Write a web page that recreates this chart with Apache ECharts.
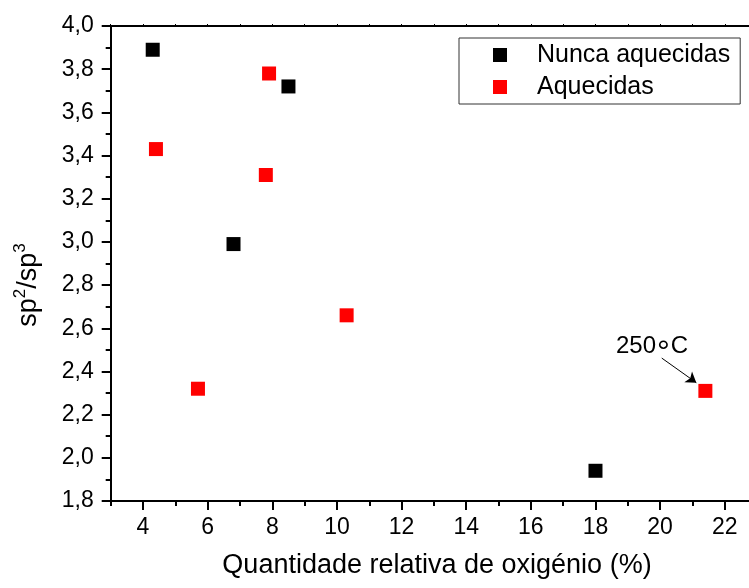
<!DOCTYPE html>
<html>
<head>
<meta charset="utf-8">
<script src="https://cdn.jsdelivr.net/npm/echarts@6/dist/echarts.min.js"></script>
<style>html,body{margin:0;padding:0;background:#fff;}#c{width:749px;height:588px;}</style>
</head>
<body>
<div id="c"></div>
<script>
var seriesNames = ['Nunca aquecidas', 'Aquecidas'];
var nuncaAquecidas = [[4.3, 3.89], [8.5, 3.72], [6.8, 2.99], [18.0, 1.94]];
var aquecidas = [[7.9, 3.78], [4.4, 3.43], [7.8, 3.31], [10.3, 2.66], [5.7, 2.32], [21.4, 2.31]];
var xTickLabels = [4, 6, 8, 10, 12, 14, 16, 18, 20, 22];
var xMinorTicks = [3, 5, 7, 9, 11, 13, 15, 17, 19, 21];
var yTickLabels = ['1,8','2,0','2,2','2,4','2,6','2,8','3,0','3,2','3,4','3,6','3,8','4,0'];
var yMinorTicks = [1.9, 2.1, 2.3, 2.5, 2.7, 2.9, 3.1, 3.3, 3.5, 3.7, 3.9];
var annotationText = ['250', '°', 'C'];
var annotationLabelAt = [19.75, 2.515];
var annotationArrow = [[20.05, 2.462], [21.12, 2.348]];
var xTitle = 'Quantidade relativa de oxigénio (%)';

var chart = echarts.init(document.getElementById('c'));
var font = 'Liberation Sans, Arial, sans-serif';
var X_MIN = 3, X_MAX = 22.75, Y_MIN = 1.8, Y_MAX = 4.0;
chart.setOption({
  animation: false,
  backgroundColor: '#fff',
  grid: {left: 110.7, right: 0, top: 26, bottom: 87},
  legend: {
    data: seriesNames,
    orient: 'vertical',
    left: 459, top: 38,
    padding: [3, 10, 3, 34],
    itemGap: 4,
    itemWidth: 14, itemHeight: 14,
    icon: 'rect',
    borderColor: '#333', borderWidth: 1,
    textStyle: {fontFamily: font, fontSize: 25, color: '#000', lineHeight: 28, padding: [0, 0, 0, 25]}
  },
  xAxis: [{
    type: 'value', min: X_MIN, max: X_MAX, position: 'bottom',
    splitLine: {show: false},
    axisLine: {onZero: false, lineStyle: {color: '#000', width: 2}},
    axisTick: {customValues: xTickLabels, length: 9, lineStyle: {color: '#000', width: 2}},
    axisLabel: {customValues: xTickLabels, fontFamily: font, fontSize: 23, color: '#000', margin: 15}
  }, {
    type: 'value', min: X_MIN, max: X_MAX, position: 'bottom',
    splitLine: {show: false},
    axisLine: {show: false, onZero: false},
    axisTick: {customValues: xMinorTicks, length: 5, lineStyle: {color: '#000', width: 2}},
    axisLabel: {show: false}
  }, {
    type: 'value', min: X_MIN, max: X_MAX, interval: 1, position: 'top',
    splitLine: {show: false},
    axisLine: {onZero: false, lineStyle: {color: '#000', width: 2}},
    axisTick: {length: 2, lineStyle: {color: '#000', width: 1}},
    axisLabel: {show: false}
  }],
  yAxis: [{
    type: 'value', min: Y_MIN, max: Y_MAX, interval: 0.2, position: 'left',
    splitLine: {show: false},
    axisLine: {show: true, onZero: false, lineStyle: {color: '#000', width: 2}},
    axisTick: {show: true, length: 9, lineStyle: {color: '#000', width: 2}},
    axisLabel: {
      fontFamily: font, fontSize: 23, color: '#000', margin: 17,
      formatter: function (v) { var i = Math.round((v - Y_MIN) / 0.2); return yTickLabels[i] || ''; }
    }
  }, {
    type: 'value', min: Y_MIN, max: Y_MAX, position: 'left',
    splitLine: {show: false},
    axisLine: {show: false, onZero: false},
    axisTick: {show: true, customValues: yMinorTicks, length: 5, lineStyle: {color: '#000', width: 2}},
    axisLabel: {show: false}
  }],
  graphic: [{
    type: 'text', x: 437, y: 566,
    style: {text: xTitle, font: '27px ' + font, fill: '#000', align: 'center', verticalAlign: 'middle'}
  }, {
    type: 'text', x: 27, y: 285, rotation: Math.PI / 2,
    style: {
      text: '{m|sp}{s|2}{m|/sp}{s|3}', align: 'center', verticalAlign: 'middle', fill: '#000',
      rich: {
        m: {fontFamily: font, fontSize: 27, fill: '#000', lineHeight: 30, verticalAlign: 'bottom'},
        s: {fontFamily: font, fontSize: 17, fill: '#000', lineHeight: 30, verticalAlign: 'top'}
      }
    }
  }],
  series: [{
    name: seriesNames[0], type: 'scatter', xAxisIndex: 0, yAxisIndex: 0,
    symbol: 'rect', symbolSize: 14, itemStyle: {color: '#000', opacity: 1},
    data: nuncaAquecidas
  }, {
    name: seriesNames[1], type: 'scatter', xAxisIndex: 0, yAxisIndex: 0,
    symbol: 'rect', symbolSize: 14, itemStyle: {color: '#ff0000', opacity: 1},
    data: aquecidas,
    markPoint: {
      symbol: 'circle', symbolSize: 0, silent: true,
      label: {
        show: true, position: 'inside',
        formatter: '{a|' + annotationText[0] + '}{d|' + annotationText[1] + '}{a|' + annotationText[2] + '}',
        rich: {
          a: {fontFamily: font, fontSize: 24, color: '#000', lineHeight: 26},
          d: {fontFamily: font, fontSize: 32, color: '#000', lineHeight: 26, padding: [14, 1, 0, 1]}
        }
      },
      data: [{coord: annotationLabelAt}]
    },
    markLine: {
      silent: true, symbol: ['none', 'arrow'], symbolSize: 10,
      lineStyle: {color: '#000', width: 1, type: 'solid', opacity: 1},
      label: {show: false},
      data: [[{coord: annotationArrow[0]}, {coord: annotationArrow[1]}]]
    }
  }]
});
</script>
</body>
</html>
